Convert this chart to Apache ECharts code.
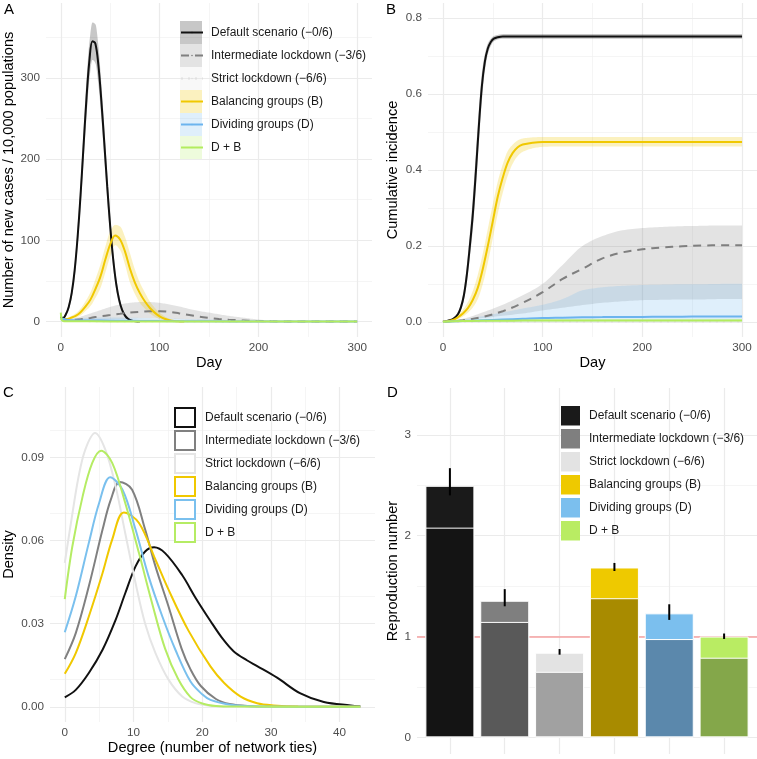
<!DOCTYPE html>
<html><head><meta charset="utf-8">
<script src="https://cdn.jsdelivr.net/npm/echarts@6/dist/echarts.min.js"></script>
<style>html,body{margin:0;padding:0;background:#fff}#c{width:757px;height:759px}</style>
</head><body><div id="c"></div>
<script>
// ---------- labels ----------
const LABELS = ['Default scenario (\u22120/6)','Intermediate lockdown (\u22123/6)','Strict lockdown (\u22126/6)','Balancing groups (B)','Dividing groups (D)','D + B'];

// ---------- Panel A: new cases per 10,000 ----------
const daysA_def = [0,2,5,8,11,14,17,20,23,26,29,32,35,38,41,44,47,50,53,56,59,62,65,68,72,76,80];
const newDef   = [6,4,8.6,18,35,63,104,156,216,275,322,345,342,316,272,220,166,117,77,47,27,14.5,7.3,3.4,1.1,0.3,0];
const newDefLo = [4,2.5,6.5,14.5,29,54,91,140,196,252,299,322,318,292,251,200,149,103,66,39,21,11,5.3,2.3,0.6,0.1,0];
const newDefHi = [8,6,11,22,41,72,117,172,236,298,345,368,366,340,293,240,183,131,88,55,33,18,9.5,4.5,1.6,0.5,0];

const daysA_int = [0,10,20,30,40,50,60,70,80,90,100,110,120,130,140,150,160,170,180,190,200,220,250,300];
const newInt   = [3,2,3,4.5,6.5,8,9.5,11,12,12.8,12.8,12,10,8,6,4.5,3.2,2.2,1.6,1,0.6,0.2,0,0];
const newIntLo = [1,0.5,1,1.5,2,2.5,3,3.5,4,4,4,3.5,3,2.5,2,1.5,1,0.7,0.5,0.3,0.2,0,0,0];
const newIntHi = [3,3,6,10,14,18,21,23,24,24,23,21,18.5,15.5,13,11,9,7,5.5,4,2.5,0.8,0,0];

const daysA_str = [0,10,30,60,100,150,200,250,300];
const newStr   = [3,1,0.5,0.4,0.3,0.2,0.1,0,0];
const newStrLo = [0,0,0,0,0,0,0,0,0];
const newStrHi = [5,2.5,3,3.5,3,2,1,0.3,0];

const daysA_bal = [0,3,6,10,15,20,25,30,35,40,45,50,55,60,65,70,75,80,85,90,95,100,105,110,115,120,125];
const newBal   = [4,3,3,4.5,7,11.5,18.5,27,40,55,76,95,106,101,86,65,48,35,25,17,11,6.5,3.5,1.6,0.6,0.2,0];
const newBalLo = [3,2,2,3,4.5,7.5,13,19,29,41,60,80,94,88,70,48,34,23,16,10,6,3,1.5,0.6,0.2,0,0];
const newBalHi = [5,4.5,4.5,6.5,10,16,25,36,52,70,92,111,119,117,104,84,64,48,36,25,17,11,6.5,3.5,1.6,0.6,0.1];

const daysA_div = [0,10,20,40,60,80,100,150,200,300];
const newDiv   = [4,1.5,1.3,1.2,1,0.8,0.6,0.3,0.1,0];
const newDivLo = [0,0,0,0,0,0,0,0,0,0];
const newDivHi = [5,4,4.5,5,5,4.5,4,2.5,1,0];

const daysA_db = [0,1,3,10,50,100,200,300];
const newDB   = [11,2,0.5,0.3,0.2,0.1,0,0];
const newDBLo = [9,1,0,0,0,0,0,0];
const newDBHi = [12,3,1,1,0.8,0.5,0.2,0];

// ---------- Panel B: cumulative incidence ----------
const daysB_def = [0,5,10,15,18,21,24,27,30,33,36,39,42,45,48,51,55,60,70,300];
const cumDef   = [0,0.003,0.007,0.02,0.038,0.07,0.125,0.2,0.285,0.395,0.515,0.62,0.685,0.72,0.737,0.746,0.75,0.752,0.752,0.752];
const cumDefLo = [0,0.002,0.005,0.015,0.03,0.056,0.103,0.17,0.245,0.35,0.47,0.58,0.66,0.705,0.727,0.739,0.744,0.746,0.746,0.746];
const cumDefHi = [0,0.004,0.009,0.026,0.048,0.086,0.15,0.235,0.33,0.445,0.56,0.655,0.705,0.733,0.746,0.753,0.756,0.758,0.758,0.758];

const daysB_bal = [0,10,15,20,25,30,35,40,45,50,55,60,65,70,75,80,90,100,120,300];
const cumBal   = [0,0.005,0.012,0.022,0.036,0.058,0.09,0.14,0.2,0.265,0.33,0.38,0.42,0.445,0.46,0.467,0.472,0.474,0.474,0.474];
const cumBalLo = [0,0.003,0.007,0.014,0.024,0.038,0.06,0.1,0.155,0.22,0.285,0.34,0.385,0.417,0.437,0.448,0.457,0.461,0.462,0.462];
const cumBalHi = [0,0.008,0.018,0.032,0.052,0.082,0.125,0.18,0.245,0.31,0.37,0.415,0.45,0.467,0.478,0.483,0.486,0.487,0.487,0.487];

const daysB = [0,20,40,60,80,100,120,140,160,180,200,220,240,260,280,300];
const cumInt   = [0,0.004,0.013,0.028,0.05,0.078,0.113,0.14,0.167,0.183,0.191,0.196,0.199,0.201,0.202,0.202];
const cumIntLo = [0,0.004,0.01,0.016,0.022,0.03,0.037,0.044,0.05,0.054,0.057,0.058,0.059,0.059,0.06,0.06];
const cumIntHi = [0,0.008,0.025,0.045,0.07,0.1,0.15,0.2,0.226,0.241,0.247,0.25,0.252,0.253,0.254,0.254];
const cumStr   = [0,0.0005,0.001,0.001,0.001,0.001,0.001,0.001,0.001,0.001,0.001,0.001,0.001,0.001,0.001,0.001];
const cumStrLo = [0,0,0,0,0,0,0,0,0,0,0,0,0,0,0,0];
const cumStrHi = [0,0.001,0.002,0.002,0.002,0.002,0.002,0.002,0.002,0.002,0.002,0.002,0.002,0.002,0.002,0.002];
const cumDiv   = [0,0.002,0.004,0.006,0.008,0.01,0.011,0.012,0.0125,0.013,0.013,0.0135,0.0135,0.014,0.014,0.014];
const cumDivLo = [0,0,0,0,0,0,0,0,0,0,0,0,0,0,0,0];
const cumDivHi = [0,0.006,0.015,0.025,0.035,0.045,0.06,0.083,0.091,0.095,0.097,0.098,0.099,0.099,0.1,0.1];
const cumDB    = [0,0.002,0.003,0.003,0.0033,0.0035,0.0035,0.0035,0.0035,0.0035,0.0035,0.0035,0.0035,0.0035,0.0035,0.0035];
const cumDBLo  = [0,0.001,0.0015,0.0015,0.0015,0.0015,0.0015,0.0015,0.0015,0.0015,0.0015,0.0015,0.0015,0.0015,0.0015,0.0015];
const cumDBHi  = [0,0.004,0.006,0.007,0.0075,0.008,0.008,0.008,0.008,0.008,0.008,0.008,0.008,0.008,0.008,0.008];

// ---------- Panel C: degree density ----------
const degDef = [0,1.6,3.5,5.5,7.4,8.8,10.3,11.7,13,14.6,17.1,19,21.2,23,24.6,26.5,28,30.9,34.3,37.7,41.6,43];
const denDef = [0.0034,0.0061,0.0122,0.0206,0.0314,0.041,0.0507,0.0561,0.0576,0.0555,0.0475,0.0395,0.031,0.0245,0.0200,0.0168,0.0147,0.0105,0.0048,0.0017,0.0005,0.0002];
const degInt = [0,1.6,3.5,5.5,6.7,8,9.8,11.7,13.2,15.1,17,18.3,19.8,22,24,27,30,43];
const denInt = [0.0172,0.0266,0.0435,0.064,0.0748,0.0812,0.0784,0.064,0.0507,0.0362,0.021,0.0135,0.0075,0.0028,0.001,0.0002,0,0];
const degStr = [0,1,2,3,4.4,5.9,7.4,8.8,10.3,11.7,13.2,15.1,17.1,19,21,24,43];
const denStr = [0.052,0.068,0.083,0.093,0.0989,0.0929,0.0796,0.0627,0.0447,0.030,0.0194,0.0098,0.0037,0.0013,0.0004,0.0001,0];
const degBal = [0,1.6,3.5,5.5,6.9,8.6,10.8,13.2,15.1,18,21.2,23.2,25.6,28,30.4,34,43];
const denBal = [0.0119,0.0194,0.0326,0.0483,0.0604,0.0702,0.0664,0.0531,0.0423,0.0275,0.0146,0.0086,0.0037,0.0013,0.0005,0.0001,0];
const degDiv = [0,1.6,3.5,5,6.6,8.4,10.3,12.2,14.2,16.1,18.3,20,21.2,24.1,27,43];
const denDiv = [0.0269,0.0399,0.0592,0.0736,0.0829,0.0784,0.064,0.0471,0.0326,0.0206,0.0091,0.0045,0.0025,0.0007,0.0002,0];
const degDB  = [0,1.1,2.6,4,5.3,6.9,8.8,10.8,12.7,14.6,16.5,18.3,20,22,25,43];
const denDB  = [0.0389,0.0579,0.076,0.0881,0.0925,0.0881,0.0736,0.0555,0.0375,0.021,0.010,0.0035,0.0012,0.0003,0.0001,0];

// ---------- Panel D: reproduction number ----------
const posD    = [1,2,3,4,5,6];
const rTotal  = [2.495,1.355,0.84,1.685,1.23,1.0];
const rInner  = [2.08,1.145,0.65,1.38,0.975,0.79];
const rErrLo  = [2.40,1.30,0.82,1.65,1.165,0.976];
const rErrHi  = [2.67,1.47,0.876,1.73,1.32,1.03];

// ---------- ticks ----------
const ticksDay = [0,100,200,300], minorDay = [50,150,250];
const ticksNew = [0,100,200,300], minorNew = [50,150,250,350];
const ticksCum = [0,0.2,0.4,0.6,0.8], minorCum = [0.1,0.3,0.5,0.7];
const ticksDeg = [0,10,20,30,40], minorDeg = [5,15,25,35];
const ticksDen = [0,0.03,0.06,0.09], minorDen = [0.015,0.045,0.075,0.105];
const ticksR = [0,1,2,3], minorR = [0.5,1.5,2.5];

// ---------- styles ----------
const lineCols = ['#111111','#7f7f7f','#e0e0e0','#f0c800','#6cb4ee','#b3ec5e'];
const ribCols = ['rgba(0,0,0,0.22)','rgba(127,127,127,0.22)','rgba(229,229,229,0.25)','rgba(240,200,0,0.25)','rgba(108,180,238,0.22)','rgba(179,236,94,0.22)'];
const lineTypes = ['solid',[8,6],[2,5],'solid','solid','solid'];
const cCols = ['#111111','#808080','#e5e5e5','#f0c800','#7ac0ee','#b5ec64'];
const dTop = ['#1a1a1a','#7f7f7f','#e3e3e3','#eec900','#7bbfee','#b9ec63'];
const dIn  = ['#141414','#595959','#a1a1a1','#a88b00','#5b88ac','#84a74a'];
const FONT = '"Liberation Sans", Arial, Helvetica, sans-serif';

const setsA = [[daysA_def,newDef,newDefLo,newDefHi],[daysA_int,newInt,newIntLo,newIntHi],[daysA_str,newStr,newStrLo,newStrHi],[daysA_bal,newBal,newBalLo,newBalHi],[daysA_div,newDiv,newDivLo,newDivHi],[daysA_db,newDB,newDBLo,newDBHi]];
const setsB = [[daysB_def,cumDef,cumDefLo,cumDefHi],[daysB,cumInt,cumIntLo,cumIntHi],[daysB,cumStr,cumStrLo,cumStrHi],[daysB_bal,cumBal,cumBalLo,cumBalHi],[daysB,cumDiv,cumDivLo,cumDivHi],[daysB,cumDB,cumDBLo,cumDBHi]];
const setsC = [[degDef,denDef],[degInt,denInt],[degStr,denStr],[degBal,denBal],[degDiv,denDiv],[degDB,denDB]];

function gridLines(gi, majX, minX, majY, minY) {
  const maj = {color:'#ebebeb', width:1.2, type:'solid'};
  const mnr = {color:'#f3f3f3', width:0.8, type:'solid'};
  const d = [];
  minX.forEach(v=>d.push({xAxis:v, lineStyle:mnr}));
  minY.forEach(v=>d.push({yAxis:v, lineStyle:mnr}));
  majX.forEach(v=>d.push({xAxis:v, lineStyle:maj}));
  majY.forEach(v=>d.push({yAxis:v, lineStyle:maj}));
  return {type:'line', xAxisIndex:gi, yAxisIndex:gi, data:[[majX[0], majY[0]]], silent:true, z:1, symbol:'none',
    lineStyle:{opacity:0}, animation:false,
    markLine:{silent:true, z:1, symbol:['none','none'], label:{show:false}, animation:false, lineStyle:{type:'solid'}, data:d}};
}

// smooth (monotone cubic) rendering of a pixel-space edge
function smoothEdge(pts, steps) {
  const n = pts.length;
  if (n < 3) return pts.slice();
  const h = [], d = [], m = [];
  for (let i = 0; i < n - 1; i++) { h[i] = pts[i+1][0] - pts[i][0]; d[i] = h[i] !== 0 ? (pts[i+1][1] - pts[i][1]) / h[i] : 0; }
  m[0] = d[0];
  for (let i = 1; i < n - 1; i++) {
    if (d[i-1] * d[i] <= 0) m[i] = 0;
    else { const w1 = 2*h[i] + h[i-1], w2 = h[i] + 2*h[i-1]; m[i] = (w1 + w2) / (w1 / d[i-1] + w2 / d[i]); }
  }
  m[n-1] = d[n-2];
  const out = [];
  for (let i = 0; i < n - 1; i++) {
    for (let s = 0; s < steps; s++) {
      const t = s / steps, t2 = t*t, t3 = t2*t;
      const y = (2*t3 - 3*t2 + 1)*pts[i][1] + (t3 - 2*t2 + t)*h[i]*m[i] + (-2*t3 + 3*t2)*pts[i+1][1] + (t3 - t2)*h[i]*m[i+1];
      out.push([pts[i][0] + t*h[i], y]);
    }
  }
  out.push(pts[n-1]);
  return out;
}

function ribbonSeries(gi, name, days, lo, hi, color) {
  return {type:'custom', name:name, xAxisIndex:gi, yAxisIndex:gi, z:2, silent:true, clip:true,
    data: days.map((d,i)=>[d, lo[i], hi[i]]),
    encode:{x:0, y:[1,2]},
    renderItem: function (params, api) {
      if (params.dataIndexInside !== 0) return null;
      const n = params.dataInsideLength;
      const up = [], dn = [];
      for (let i = 0; i < n; i++) {
        up.push(api.coord([api.value(0, i), api.value(2, i)]));
        dn.push(api.coord([api.value(0, i), api.value(1, i)]));
      }
      const pts = smoothEdge(up, 8).concat(smoothEdge(dn, 8).reverse());
      return {type:'polygon', shape:{points: pts}, style:{fill: color}};
    }};
}

const series = [];
series.push(gridLines(0, ticksDay, minorDay, ticksNew, minorNew));
series.push(gridLines(1, ticksDay, minorDay, ticksCum, minorCum));
series.push(gridLines(2, ticksDeg, minorDeg, ticksDen, minorDen));
series.push(gridLines(3, posD, [], ticksR, minorR));

function addPanel(sets, gi, prefix, ribPrefix) {
  sets.forEach((s, k) => {
    const [days, v, lo, hi] = s;
    series.push(ribbonSeries(gi, ribPrefix + LABELS[k], days, lo, hi, ribCols[k]));
  });
  sets.forEach((s, k) => {
    const [days, v] = s;
    series.push({type:'line', name: prefix + LABELS[k], xAxisIndex:gi, yAxisIndex:gi, symbol:'none', smooth:0.35,
      data: days.map((d,i)=>[d, v[i]]), lineStyle:{color: lineCols[k], width:2, type: lineTypes[k]}, itemStyle:{color: lineCols[k]}, z:3, silent:true});
  });
}
addPanel(setsA, 0, 'A|', 'R|');
addPanel(setsB, 1, 'B|', 'S|');

setsC.forEach((s, k) => {
  const [deg, den] = s;
  series.push({type:'line', name:'C|' + LABELS[k], xAxisIndex:2, yAxisIndex:2, symbol:'none', smooth:0.35,
    data: deg.map((d,i)=>[d, den[i]]), lineStyle:{color:cCols[k], width:2}, itemStyle:{color:cCols[k]}, z:3, silent:true});
});

// reference line R = 1
series.push({type:'line', xAxisIndex:3, yAxisIndex:3, data:[[1,0]], symbol:'none', lineStyle:{opacity:0}, z:2, silent:true,
  markLine:{silent:true, z:2, symbol:['none','none'], label:{show:false}, animation:false, data:[{yAxis:1}], lineStyle:{color:'#f6a0a0', width:1.5, type:'solid'}}});

posD.forEach((x, k) => {
  series.push({type:'bar', name:'D|' + LABELS[k], xAxisIndex:3, yAxisIndex:3, data:[[x, rTotal[k]]], barWidth:49, barGap:'-100%',
    itemStyle:{color:dTop[k], borderColor:'#fff', borderWidth:1}, z:3, silent:true});
});
posD.forEach((x, k) => {
  series.push({type:'bar', name:'d|' + LABELS[k], xAxisIndex:3, yAxisIndex:3, data:[[x, rInner[k]]], barWidth:49, barGap:'-100%',
    itemStyle:{color:dIn[k], borderColor:'#fff', borderWidth:1}, z:4, silent:true});
});
series.push({type:'custom', xAxisIndex:3, yAxisIndex:3, z:5, silent:true,
  data: posD.map((x,i)=>[x, rErrLo[i], rErrHi[i]]), encode:{x:0, y:[1,2]},
  renderItem: function (p, api) {
    const a = api.coord([api.value(0), api.value(1)]);
    const b = api.coord([api.value(0), api.value(2)]);
    return {type:'line', shape:{x1:a[0], y1:a[1], x2:b[0], y2:b[1]}, style:{stroke:'#000', lineWidth:2}};
  }});

const tickLbl = {color:'#4d4d4d', fontSize:11.7, fontFamily:FONT};
const nameSt = {color:'#000', fontSize:14.6, fontFamily:FONT};
function xA(gi, min, max, ticks, name) {
  return {gridIndex:gi, type:'value', min:min, max:max, name:name, nameLocation:'middle', nameGap:18, nameTextStyle:nameSt,
    axisLine:{show:false}, axisTick:{show:false}, splitLine:{show:false},
    axisLabel: ticks ? Object.assign({customValues:ticks, margin:5, formatter: v => String(v)}, tickLbl) : {show:false}};
}
function yA(gi, min, max, ticks, name, gap, dec) {
  return {gridIndex:gi, type:'value', min:min, max:max, name:name, nameLocation:'middle', nameGap:gap, nameTextStyle:nameSt,
    axisLine:{show:false}, axisTick:{show:false}, splitLine:{show:false},
    axisLabel: Object.assign({customValues:ticks, margin:6, formatter: v => Number(v).toFixed(dec)}, tickLbl)};
}

const legText = {fontSize:12, color:'#1a1a1a', fontFamily:FONT};
const option = {
  animation:false,
  textStyle:{fontFamily:FONT},
  title:[
    {text:'A', left:4, top:2, padding:0, textStyle:{fontSize:15, fontWeight:'normal', color:'#000', fontFamily:FONT}},
    {text:'B', left:386, top:2, padding:0, textStyle:{fontSize:15, fontWeight:'normal', color:'#000', fontFamily:FONT}},
    {text:'C', left:3, top:385, padding:0, textStyle:{fontSize:15, fontWeight:'normal', color:'#000', fontFamily:FONT}},
    {text:'D', left:387, top:385, padding:0, textStyle:{fontSize:15, fontWeight:'normal', color:'#000', fontFamily:FONT}}
  ],
  grid:[
    {left:46, top:3, width:326, height:334},
    {left:428, top:3, width:329, height:334},
    {left:49, top:387, width:326, height:335},
    {left:417, top:388, width:340, height:366}
  ],
  xAxis:[
    xA(0, -15, 315, ticksDay, 'Day'),
    xA(1, -15, 315, ticksDay, 'Day'),
    xA(2, -2.15, 45.15, ticksDeg, 'Degree (number of network ties)'),
    xA(3, 0.4, 6.6, null, '')
  ],
  yAxis:[
    yA(0, -19, 392, ticksNew, 'Number of new cases / 10,000 populations', 28, 0),
    yA(1, -0.04, 0.84, ticksCum, 'Cumulative incidence', 28, 1),
    yA(2, -0.0055, 0.1155, ticksDen, 'Density', 34, 2),
    yA(3, -0.165, 3.465, ticksR, 'Reproduction number', 17, 0)
  ],
  legend:[
    {left:180, top:21, padding:0, orient:'vertical', itemWidth:22, itemHeight:23, itemGap:0, icon:'rect', selectedMode:false,
     itemStyle:{opacity:1, borderWidth:0}, formatter: () => '', textStyle:legText,
     data: LABELS.map((l,k)=>({name:'R|'+l, itemStyle:{color:ribCols[k]}}))},
    {left:180, top:21, padding:0, orient:'vertical', itemWidth:22, itemHeight:2, itemGap:0, selectedMode:false,
     itemStyle:{borderWidth:0}, formatter: n => n.slice(2), textStyle:Object.assign({lineHeight:23, padding:[0,0,0,3]}, legText),
     data: LABELS.map(l=>'A|'+l)},
    {left:174, top:407, padding:0, orient:'vertical', itemWidth:20, itemHeight:19, itemGap:2, icon:'rect', selectedMode:false,
     itemStyle:{color:'#ffffff', borderWidth:2, opacity:1}, formatter: n => n.slice(2), textStyle:Object.assign({padding:[0,0,0,5]}, legText),
     data: LABELS.map((l,k)=>({name:'C|'+l, itemStyle:{color:'#ffffff', borderColor:cCols[k], borderWidth:2}}))},
    {left:561, top:406, padding:0, orient:'vertical', itemWidth:19, itemHeight:19.5, itemGap:3.5, icon:'rect', selectedMode:false,
     itemStyle:{borderWidth:0, opacity:1}, formatter: n => n.slice(2), textStyle:Object.assign({padding:[0,0,0,4]}, legText),
     data: LABELS.map(l=>'D|'+l)}
  ],
  series: series
};
const chart = echarts.init(document.getElementById('c'), null, {renderer:'canvas'});
chart.setOption(option);
</script></body></html>
